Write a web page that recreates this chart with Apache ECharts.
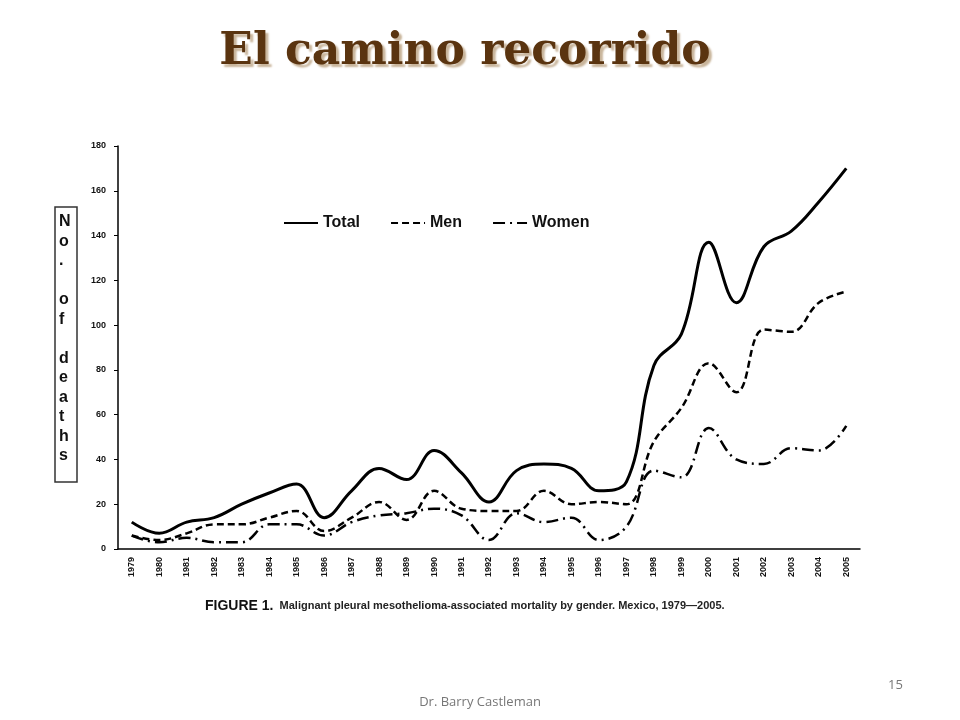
<!DOCTYPE html>
<html><head><meta charset="utf-8">
<script src="https://cdn.jsdelivr.net/npm/echarts@6/dist/echarts.min.js"></script>
<style>html,body{margin:0;background:#fff}#c{width:960px;height:720px}</style></head>
<body><div id="c"></div>
<script>
const years = ['1979','1980','1981','1982','1983','1984','1985','1986','1987','1988','1989','1990','1991','1992','1993','1994','1995','1996','1997','1998','1999','2000','2001','2002','2003','2004','2005'];
const total = [12,7,12,14,20,25,29,14,26,36,31,44,34,21,35,38,36,26,30,82,96,137,110,135,142,155,170];
const men = [6,4,7,11,11,14,17,8,14,21,13,26,18,17,17,26,20,21,20,48,63,83,70,98,97,110,115];
const women = [6,3,5,3,3,11,11,6,12,15,16,18,15,4,16,12,14,4,10,35,32,54,40,38,45,44,55];
const yTicks = [0,20,40,60,80,100,120,140,160,180];

const chart = echarts.init(document.getElementById('c'));
const lab = {fontFamily:'Liberation Sans',fontWeight:'bold',fontSize:9,color:'#111'};
chart.setOption({
  animation:false,
  title:{text:'El camino recorrido',left:460,top:26,textAlign:'center',
    textStyle:{fontFamily:'DejaVu Serif',fontSize:44,fontWeight:'bold',color:'#5a3410',
      textShadowColor:'#c8b49a',textShadowOffsetX:3,textShadowOffsetY:3,textShadowBlur:2}},
  legend:{left:278,top:210,itemWidth:34,itemGap:30,itemHeight:10,
    itemStyle:{opacity:0},
    textStyle:{fontFamily:'Liberation Sans',fontSize:16,fontWeight:'bold',color:'#111'},
    data:['Total','Men','Women']},
  grid:{left:118,right:100,top:146,bottom:171},
  xAxis:{type:'category',data:years,boundaryGap:true,
    axisLine:{lineStyle:{color:'#000',width:1.5}},axisTick:{show:false},
    axisLabel:Object.assign({rotate:90,interval:0,margin:8},lab)},
  yAxis:{type:'value',min:0,max:180,interval:20,splitLine:{show:false},
    axisLine:{show:true,lineStyle:{color:'#000',width:1.5}},axisTick:{show:true,length:4,lineStyle:{color:'#000'}},
    axisLabel:Object.assign({margin:12,formatter:v=>yTicks.includes(v)?String(v):''},lab)},
  series:[
    {name:'Total',type:'line',smooth:0.4,data:total,showSymbol:false,symbol:'none',lineStyle:{color:'#000',width:3},itemStyle:{color:'#000'}},
    {name:'Men',type:'line',smooth:0.4,data:men,showSymbol:false,symbol:'none',lineStyle:{color:'#000',width:2.5,type:[7,4]},itemStyle:{color:'#000'}},
    {name:'Women',type:'line',smooth:0.4,data:women,showSymbol:false,symbol:'none',lineStyle:{color:'#000',width:2.5,type:[12,5,2,5]},itemStyle:{color:'#000'}}
  ],
  graphic:[
    {type:'rect',shape:{x:55,y:207,width:22,height:275},style:{fill:'none',stroke:'#333',lineWidth:1.5}},
    {type:'text',left:59,top:212,style:{text:'N\no\n.\n\no\nf\n\nd\ne\na\nt\nh\ns',fontFamily:'Liberation Sans',fontWeight:'bold',fontSize:16,lineHeight:19.5,fill:'#111'}},
    {type:'text',left:205,top:599,style:{text:'{b|FIGURE 1.}  Malignant pleural mesothelioma-associated mortality by gender. Mexico, 1979\u20142005.',
      rich:{b:{fontFamily:'Liberation Sans',fontWeight:'bold',fontSize:14,fill:'#111'}},
      fontFamily:'Liberation Sans',fontSize:11,fontWeight:'bold',fill:'#222'}},
    {type:'text',x:480,y:696,style:{text:'Dr. Barry Castleman',align:'center',fontFamily:'Open Sans',fontSize:13,fill:'#777'}},
    {type:'text',x:888,y:679,style:{text:'15',fontFamily:'Open Sans',fontSize:13,fill:'#777'}}
  ]
});
</script></body></html>
